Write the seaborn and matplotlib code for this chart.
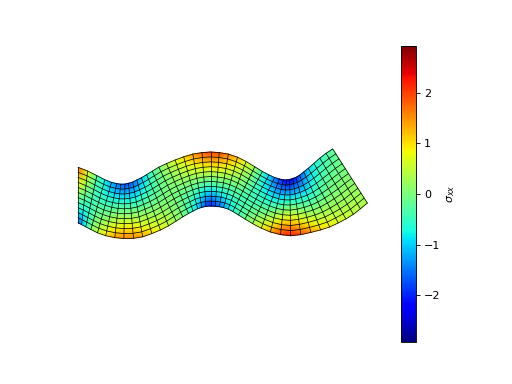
import numpy as np
import matplotlib
matplotlib.use("Agg")
import matplotlib.pyplot as plt
import seaborn as sns

top_x = [78, 87.6, 96.8, 104.9, 111.5, 116.7, 120.8, 124.9, 128.5, 132.7, 136.8, 141.4, 146.6, 152.2, 158.8, 166.5, 175.1, 183.7, 192.8, 202, 210.6, 219.2, 228.4, 237.5, 246.1, 254.8, 262.4, 269, 274.6, 279.3, 283.4, 286.5, 289.7, 292.8, 295.9, 299.6, 303.7, 308.3, 313.9, 319.8, 326, 332.7]
top_y = [167.3, 171, 175.6, 179.8, 182.4, 183.6, 184.2, 184.1, 183.3, 182.1, 180, 177.8, 174.7, 171.2, 167.2, 163.6, 160, 156.8, 154.1, 152.6, 152, 152.6, 154.1, 157.2, 161.5, 166.8, 171.5, 175, 177.5, 179, 179.9, 180, 179.5, 178.5, 177.4, 175.2, 172, 168.3, 163.4, 158.2, 153.3, 149]
bot_x = [78, 81.6, 85.8, 90.9, 97.5, 105.7, 114.8, 123.9, 133.5, 142.7, 151.8, 160.4, 168.6, 176.2, 182.8, 188.5, 193.1, 197.7, 201.8, 206, 210.6, 215.2, 219.4, 223.5, 228.1, 232.8, 238.4, 245, 252.6, 261.3, 270.4, 280.5, 290.7, 300.8, 310.9, 320.6, 329.7, 338.3, 345.9, 353.4, 360.4, 367.3]
bot_y = [222.7, 224.6, 226.8, 229.5, 232.8, 235.7, 237.6, 238.5, 238.3, 236.8, 233.6, 230, 225.8, 221, 216.8, 213.5, 211, 208.7, 207.3, 206.3, 206, 206.3, 206.7, 207.6, 209, 211.5, 214.9, 219, 223.6, 228.2, 232, 234.6, 235.7, 234.6, 232.4, 229.9, 227, 222.9, 218.9, 214.3, 208.8, 203]
top_stress = [1.75, 0.75, -0.2, -0.8, -1.2, -1.45, -1.6, -1.7, -1.7, -1.6, -1.35, -1.05, -0.7, -0.35, 0, 0.35, 0.7, 1.05, 1.45, 1.8, 2.0, 1.9, 1.6, 1.2, 0.75, 0.25, -0.45, -0.95, -1.4, -1.8, -2.1, -2.25, -2.3, -2.15, -1.95, -1.7, -1.35, -1.0, -0.7, -0.5, -0.35, -0.2]
bot_stress = [-1.6, -1.2, -0.65, 0.1, 0.55, 1.0, 1.4, 1.55, 1.55, 1.35, 1.05, 0.8, 0.55, 0.25, 0, -0.35, -0.65, -1.0, -1.4, -1.8, -2.05, -1.8, -1.55, -1.25, -0.9, -0.65, -0.35, -0.05, 0.35, 0.8, 1.4, 2.0, 2.25, 1.9, 1.45, 1.1, 0.9, 0.72, 0.6, 0.5, 0.42, 0.35]
stress_limit = 2.92
n_rows = 11
label = r"$\sigma_{xx}$"

sns.set_style("white", rc={"font.family": "DejaVu Sans", "ytick.right": True,
                           "axes.edgecolor": "black", "text.color": "black", "ytick.color": "black",
                           "axes.labelcolor": "black", "axes.linewidth": 0.8, "font.size": 10,
                           "ytick.labelsize": 10, "axes.labelsize": 10, "mathtext.fontset": "dejavusans"})
cmap = matplotlib.colormaps["jet"]

W, H = 512, 384
fig = plt.figure(figsize=(W / 80, H / 80), dpi=80)
ax = fig.add_axes([78 / W, 1 - 245 / H, (368 - 78) / W, (245 - 145) / H])
ax.set_xlim(78, 368)
ax.set_ylim(245, 145)
ax.axis("off")

eta = np.linspace(0, 1, n_rows + 1)[:, None]
tx, ty, bx, by = map(np.asarray, (top_x, top_y, bot_x, bot_y))
ts, bs = np.asarray(top_stress), np.asarray(bot_stress)
X = tx + eta * (bx - tx)
Y = ty + eta * (by - ty)
S = ts + eta * (bs - ts)

mesh = ax.pcolormesh(X, Y, S, shading="gouraud", cmap=cmap, vmin=-stress_limit, vmax=stress_limit)
ax.plot(X, Y, color="k", lw=0.65, clip_on=False)
ax.plot(X.T, Y.T, color="k", lw=0.65, clip_on=False)

cax = fig.add_axes([401 / W, 1 - 342 / H, 15 / W, 296 / H])
cb = fig.colorbar(mesh, cax=cax)
cb.set_label(label)
cb.set_ticks([-2, -1, 0, 1, 2])
cb.ax.tick_params(length=3.5, width=0.8, labelsize=10)
fig.savefig("out.png", dpi=80)
